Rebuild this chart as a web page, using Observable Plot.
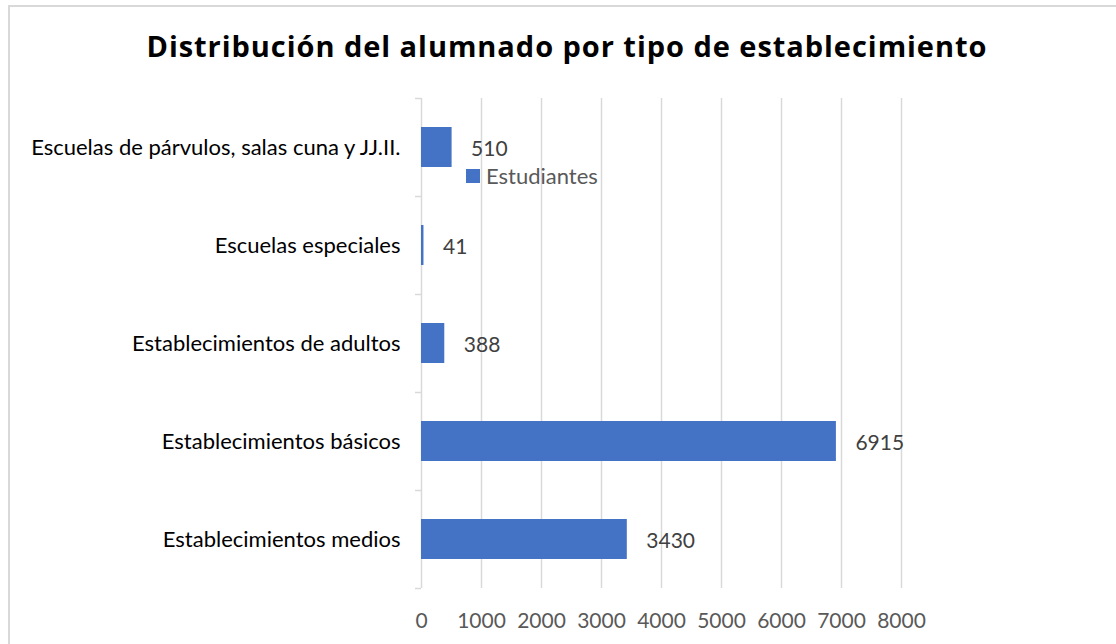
<!DOCTYPE html>
<html>
<head>
<meta charset="utf-8">
<script src="https://cdn.jsdelivr.net/npm/d3@7"></script>
<script src="https://cdn.jsdelivr.net/npm/@observablehq/plot@0.6"></script>
<style>
  html, body { margin: 0; padding: 0; background: #fff; width: 1116px; height: 644px; overflow: hidden; }
  #frame { position: absolute; left: 8px; top: 5px; width: 1130px; height: 680px; border: 2px solid #d9d9d9; box-sizing: border-box; }
  #title { position: absolute; left: 0; top: 31px; width: 1132px; text-align: center; font-family: "Open Sans", sans-serif; font-weight: bold; font-size: 29px; color: #000; line-height: 29px; white-space: nowrap; }
  #chart { position: absolute; left: 0; top: 0; }
  #legend { position: absolute; left: 466px; top: 164px; font-family: Lato, sans-serif; font-size: 22px; color: #595959; display: flex; align-items: center; line-height: 24px; }
  #legend .sw { width: 14px; height: 14px; background: #4472C4; margin-right: 6px; }
</style>
</head>
<body>
<div id="frame"></div>
<div id="chart"></div>
<div id="title"></div>
<div id="legend"></div>
<script>
const titleText = "Distribución del alumnado por tipo de establecimiento";
const seriesName = "Estudiantes";
const categories = [
  "Escuelas de párvulos, salas cuna y JJ.II.",
  "Escuelas especiales",
  "Establecimientos de adultos",
  "Establecimientos básicos",
  "Establecimientos medios"
];
const values = [510, 41, 388, 6915, 3430];
const xTicks = [0, 1000, 2000, 3000, 4000, 5000, 6000, 7000, 8000];

const data = categories.map((c, i) => ({category: c, value: values[i]}));

// title, with letter spacing fitted to the reference title width
const titleEl = document.getElementById("title");
titleEl.textContent = titleText;
const ctx = document.createElement("canvas").getContext("2d");
ctx.font = 'bold 29px "Open Sans"';
const tw = ctx.measureText(titleText).width;
const targetW = 840;
const ls = (targetW - tw) / (titleText.length - 1);
titleEl.style.letterSpacing = ls + "px";
titleEl.style.paddingLeft = ls + "px";

const leg = document.getElementById("legend");
leg.innerHTML = '<div class="sw"></div><span></span>';
leg.querySelector("span").textContent = seriesName;

const chart = Plot.plot({
  width: 1116,
  height: 644,
  marginLeft: 421,
  marginRight: 215,
  marginTop: 98,
  marginBottom: 56,
  style: {fontFamily: "Lato, sans-serif", background: "transparent"},
  x: {domain: [0, 8000], ticks: xTicks, label: null},
  y: {domain: categories, padding: 0, label: null},
  marks: [
    Plot.gridX(xTicks, {stroke: "#d9d9d9", strokeOpacity: 1, strokeWidth: 1.5}),
    Plot.ruleY(categories, {y: d => d, x1: 0, x2: 0, insetLeft: -6, dy: -49, stroke: "#d9d9d9", strokeWidth: 1.5}),
    Plot.ruleY(categories.slice(-1), {y: d => d, x1: 0, x2: 0, insetLeft: -6, dy: 49, stroke: "#d9d9d9", strokeWidth: 1.5}),
    Plot.barX(data, {x: "value", y: "category", fill: "#4472C4", insetTop: 29, insetBottom: 29}),
    Plot.text(data, {x: "value", y: "category", text: d => String(d.value), dx: 19, dy: 2, textAnchor: "start", fontSize: 21, fill: "#404040"}),
    Plot.axisY({tickSize: 0, tickPadding: 21, fontSize: 22, fill: "#000", label: null}),
    Plot.axisX({ticks: xTicks, tickSize: 0, tickPadding: 25, fontSize: 21, fill: "#595959", tickFormat: d => String(d), label: null})
  ]
});
document.getElementById("chart").appendChild(chart);
</script>
</body>
</html>
